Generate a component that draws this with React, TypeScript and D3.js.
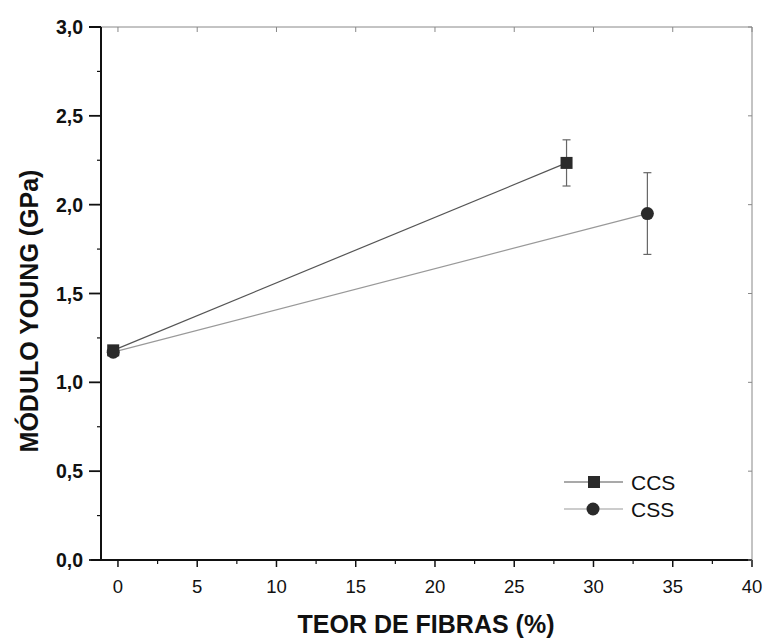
import React from "react";
import * as d3 from "d3";

const seriesNames = ["CCS", "CSS"];
const ccsX = [-0.3, 28.3];
const ccsY = [1.18, 2.235];
const ccsErr = [0.02, 0.13];
const cssX = [-0.3, 33.4];
const cssY = [1.17, 1.95];
const cssErr = [0.02, 0.23];
const xTicks = [0, 5, 10, 15, 20, 25, 30, 35, 40];
const yTicks = [0, 0.5, 1.0, 1.5, 2.0, 2.5, 3.0];

export default function App() {
  const W = 764, H = 640;
  const left = 101, right = 752, top = 27, bottom = 560;
  const x = d3.scaleLinear().domain([-1.07, 40]).range([left, right]);
  const y = d3.scaleLinear().domain([0, 3]).range([bottom, top]);
  const font = "Arial, 'Liberation Sans', sans-serif";
  const fmtY = (v: number) => v.toFixed(1).replace(".", ",");
  const xMinor = d3.range(2.5, 40, 5);
  const yMinor = d3.range(0.25, 3, 0.5);

  const series = [
    { name: seriesNames[0], xs: ccsX, ys: ccsY, es: ccsErr, color: "#2a2a2a", lineColor: "#555", marker: "square" },
    { name: seriesNames[1], xs: cssX, ys: cssY, es: cssErr, color: "#2a2a2a", lineColor: "#999", marker: "circle" },
  ];

  return (
    <svg width={W} height={H} style={{ position: "absolute", left: 0, top: 0, background: "#fff" }}>
      <rect x={0} y={0} width={W} height={H} fill="#fff" />
      {/* frame */}
      <line x1={left} y1={top} x2={right} y2={top} stroke="#888" strokeWidth={1} />
      <line x1={right} y1={top} x2={right} y2={bottom} stroke="#888" strokeWidth={1} />
      <line x1={left} y1={top} x2={left} y2={bottom} stroke="#111" strokeWidth={2} />
      <line x1={left - 10} y1={bottom} x2={right} y2={bottom} stroke="#111" strokeWidth={2} />
      <line x1={left - 12} y1={top} x2={left} y2={top} stroke="#111" strokeWidth={2} />
      {/* x ticks */}
      {xTicks.map((t) => (
        <g key={"xt" + t}>
          <line x1={x(t)} x2={x(t)} y1={bottom} y2={bottom + 7} stroke="#111" strokeWidth={1.5} />
          <line x1={x(t)} x2={x(t)} y1={top} y2={top + 5} stroke="#888" strokeWidth={1} />
          <text x={x(t)} y={bottom + 33} textAnchor="middle" fontFamily={font} fontSize={18.5} fill="#111">{t}</text>
        </g>
      ))}
      {xMinor.map((t) => (
        <line key={"xm" + t} x1={x(t)} x2={x(t)} y1={bottom} y2={bottom + 4} stroke="#111" strokeWidth={1.2} />
      ))}
      {/* y ticks */}
      {yTicks.map((t) => (
        <g key={"yt" + t}>
          <line x1={left - 12} x2={left} y1={y(t)} y2={y(t)} stroke="#111" strokeWidth={1.8} />
          <line x1={right - 4} x2={right} y1={y(t)} y2={y(t)} stroke="#888" strokeWidth={1} />
          <text x={left - 18} y={y(t) + 7} textAnchor="end" fontFamily={font} fontSize={19.5} fontWeight="bold" fill="#111">{fmtY(t)}</text>
        </g>
      ))}
      {yMinor.map((t) => (
        <line key={"ym" + t} x1={left - 4} x2={left} y1={y(t)} y2={y(t)} stroke="#111" strokeWidth={1.2} />
      ))}
      {/* series */}
      {series.map((s) => {
        const pts = s.xs.map((xv, i) => [x(xv), y(s.ys[i])] as [number, number]);
        const path = d3.line()(pts) || "";
        return (
          <g key={s.name}>
            <path d={path} fill="none" stroke={s.lineColor} strokeWidth={1.2} />
            {s.xs.map((xv, i) => {
              const cx = x(xv), cy = y(s.ys[i]);
              const y1 = y(s.ys[i] + s.es[i]), y2 = y(s.ys[i] - s.es[i]);
              return (
                <g key={i}>
                  <line x1={cx} x2={cx} y1={y1} y2={y2} stroke="#666" strokeWidth={1.2} />
                  <line x1={cx - 4} x2={cx + 4} y1={y1} y2={y1} stroke="#666" strokeWidth={1.2} />
                  <line x1={cx - 4} x2={cx + 4} y1={y2} y2={y2} stroke="#666" strokeWidth={1.2} />
                  {s.marker === "square" ? (
                    <rect x={cx - 6} y={cy - 6} width={12} height={12} fill={s.color} />
                  ) : (
                    <circle cx={cx} cy={cy} r={6.5} fill={s.color} />
                  )}
                </g>
              );
            })}
          </g>
        );
      })}
      {/* legend */}
      {series.map((s, i) => {
        const ly = 482 + i * 27;
        const lx = 594;
        return (
          <g key={"lg" + s.name}>
            <line x1={lx - 30} x2={lx + 29} y1={ly} y2={ly} stroke={s.lineColor} strokeWidth={1.2} />
            {s.marker === "square" ? (
              <rect x={lx - 6} y={ly - 6} width={12} height={12} fill={s.color} />
            ) : (
              <circle cx={lx - 1} cy={ly} r={6.5} fill={s.color} />
            )}
            <text x={lx + 37} y={ly + 7.5} fontFamily={font} fontSize={21} fill="#111">{s.name}</text>
          </g>
        );
      })}
      {/* axis titles */}
      <text x={426} y={633} textAnchor="middle" fontFamily={font} fontSize={25} fontWeight="bold" fill="#111">TEOR DE FIBRAS (%)</text>
      <text transform={`translate(38, 311) rotate(-90)`} textAnchor="middle" fontFamily={font} fontSize={25} fontWeight="bold" fill="#111">MÓDULO YOUNG (GPa)</text>
    </svg>
  );
}
